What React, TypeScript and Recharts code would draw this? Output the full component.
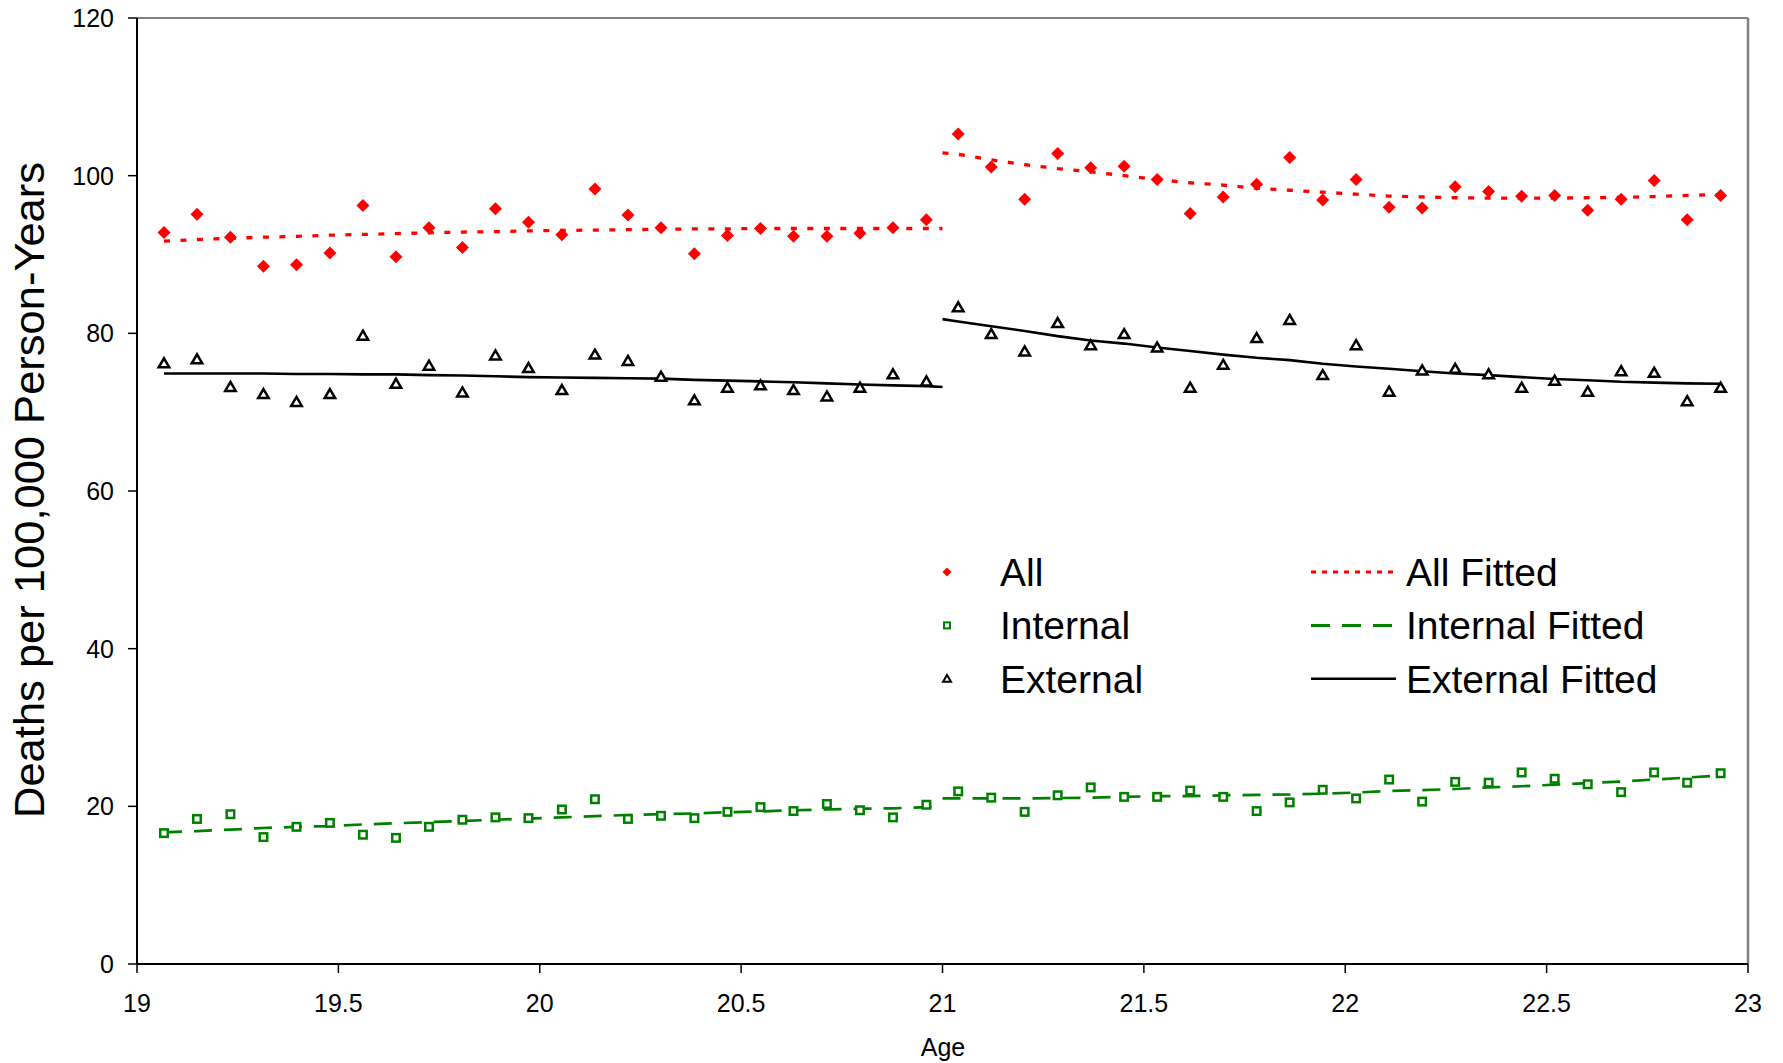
import React from 'react';
import {
  ComposedChart,
  Scatter,
  Line,
  XAxis,
  YAxis,
  ReferenceLine,
  Legend,
} from 'recharts';

// ages of the monthly points, before and after the age-21 break
const agesA = [
  19.067, 19.149, 19.232, 19.314, 19.396, 19.479, 19.561, 19.643, 19.725, 19.808, 19.89, 19.972,
  20.055, 20.137, 20.219, 20.301, 20.384, 20.466, 20.548, 20.63, 20.713, 20.795, 20.877, 20.96,
];
const agesB = [
  21.039, 21.121, 21.204, 21.286, 21.368, 21.451, 21.533, 21.615, 21.697, 21.78, 21.862, 21.944,
  22.027, 22.109, 22.191, 22.273, 22.356, 22.438, 22.52, 22.602, 22.685, 22.767, 22.849, 22.932,
];
const BREAK_AGE = 21;

const allValues = [
  92.8, 95.1, 92.2, 88.5, 88.7, 90.2, 96.2, 89.7, 93.4, 90.9, 95.8, 94.1,
  92.5, 98.3, 95.0, 93.4, 90.1, 92.4, 93.3, 92.3, 92.3, 92.7, 93.4, 94.4,
  105.3, 101.1, 97.0, 102.8, 101.0, 101.2, 99.5, 95.2, 97.3, 98.9, 102.3, 96.9,
  99.5, 96.0, 95.9, 98.6, 98.0, 97.4, 97.5, 95.6, 97.0, 99.4, 94.4, 97.5,
];
const internalValues = [
  16.6, 18.4, 19.0, 16.1, 17.4, 17.9, 16.4, 16.0, 17.4, 18.3, 18.6, 18.5,
  19.6, 20.9, 18.4, 18.8, 18.5, 19.3, 19.9, 19.4, 20.3, 19.5, 18.6, 20.2,
  21.9, 21.1, 19.3, 21.4, 22.4, 21.2, 21.2, 22.0, 21.2, 19.4, 20.5, 22.1,
  21.0, 23.4, 20.6, 23.1, 23.0, 24.3, 23.5, 22.8, 21.8, 24.3, 23.0, 24.2,
];
const externalValues = [
  76.2, 76.7, 73.2, 72.3, 71.3, 72.3, 79.7, 73.6, 75.9, 72.5, 77.2, 75.6,
  72.8, 77.3, 76.5, 74.5, 71.5, 73.1, 73.4, 72.8, 72.0, 73.1, 74.8, 73.9,
  83.3, 79.9, 77.7, 81.3, 78.5, 79.9, 78.2, 73.1, 76.0, 79.4, 81.7, 74.7,
  78.5, 72.6, 75.3, 75.5, 74.8, 73.1, 74.0, 72.6, 75.2, 75.0, 71.4, 73.1,
];

// fitted curves: first part ends at 21, second part starts at 21
const allFitA = [
  91.7, 91.9, 92.05, 92.2, 92.3, 92.45, 92.55, 92.65, 92.75, 92.85, 92.9, 93.0,
  93.05, 93.1, 93.15, 93.2, 93.25, 93.25, 93.3, 93.3, 93.3, 93.3, 93.3, 93.3, 93.3,
];
const allFitB = [
  102.9, 102.7, 102.0, 101.4, 100.9, 100.5, 100.0, 99.5, 99.1, 98.8, 98.4, 98.15, 97.9,
  97.65, 97.4, 97.3, 97.2, 97.15, 97.15, 97.15, 97.2, 97.25, 97.35, 97.5, 97.6,
];
const internalFitA = [
  16.7, 16.85, 17.05, 17.25, 17.4, 17.5, 17.7, 17.85, 18.0, 18.15, 18.3, 18.45,
  18.6, 18.75, 18.9, 19.0, 19.1, 19.25, 19.35, 19.5, 19.6, 19.7, 19.75, 19.9, 20.0,
];
const internalFitB = [
  21.0, 21.0, 21.0, 21.0, 21.05, 21.1, 21.2, 21.3, 21.3, 21.4, 21.45, 21.5, 21.6,
  21.75, 21.95, 22.05, 22.2, 22.4, 22.55, 22.75, 22.95, 23.15, 23.4, 23.65, 23.9,
];
const externalFitA = [
  74.9, 74.9, 74.9, 74.9, 74.85, 74.85, 74.8, 74.8, 74.7, 74.65, 74.55, 74.45,
  74.4, 74.35, 74.3, 74.25, 74.1, 74.0, 73.9, 73.8, 73.65, 73.5, 73.4, 73.3, 73.2,
];
const externalFitB = [
  81.8, 81.5, 80.9, 80.3, 79.65, 79.1, 78.7, 78.2, 77.75, 77.3, 76.9, 76.6, 76.15,
  75.8, 75.5, 75.2, 74.9, 74.7, 74.45, 74.2, 74.05, 73.85, 73.75, 73.65, 73.6,
];

const xTicks = [19, 19.5, 20, 20.5, 21, 21.5, 22, 22.5, 23];
const yTicks = [0, 20, 40, 60, 80, 100, 120];

const RED = '#ff0000';
const GREEN = '#008000';
const BLACK = '#000000';
const FONT = '"Liberation Sans", Arial, sans-serif';

const ages = [...agesA, ...agesB];
const fitAgesA = [...agesA, BREAK_AGE];
const fitAgesB = [BREAK_AGE, ...agesB];
const toPoints = (xs: number[], ys: number[]) => xs.map((x, i) => ({ x, y: ys[i] }));

const Diamond = ({ cx, cy, r = 6.5 }: any) => (
  <polygon points={`${cx},${cy - r} ${cx + r},${cy} ${cx},${cy + r} ${cx - r},${cy}`} fill={RED} />
);
const Square = ({ cx, cy, s = 7.5, w = 2.5 }: any) => (
  <rect x={cx - s / 2} y={cy - s / 2} width={s} height={s} fill="#fff" stroke={GREEN} strokeWidth={w} />
);
const Triangle = ({ cx, cy, r = 5, w = 2.5 }: any) => (
  <polygon
    points={`${cx},${cy - r} ${cx + r * 1.05},${cy + r * 0.8} ${cx - r * 1.05},${cy + r * 0.8}`}
    fill="#fff"
    stroke={BLACK}
    strokeWidth={w}
  />
);

const renderLegend = () => {
  const rows = [
    { y: 27, name: 'All', fit: 'All Fitted', marker: <Diamond cx={17} cy={27} r={4.5} />, color: RED, dash: '5 6', w: 3 },
    { y: 80.4, name: 'Internal', fit: 'Internal Fitted', marker: <Square cx={17} cy={80.4} s={6} w={2} />, color: GREEN, dash: '19 12', w: 3 },
    { y: 133.8, name: 'External', fit: 'External Fitted', marker: <Triangle cx={17} cy={133.8} r={3.8} w={2} />, color: BLACK, dash: undefined, w: 2.5 },
  ];
  return (
    <svg width={800} height={160} style={{ fontFamily: FONT }}>
      {rows.map((r) => (
        <g key={r.name}>
          {r.marker}
          <text x={70} y={r.y + 14} fontSize={39} fill="#000">{r.name}</text>
          <line x1={381} x2={466} y1={r.y} y2={r.y} stroke={r.color} strokeWidth={r.w} strokeDasharray={r.dash} />
          <text x={476} y={r.y + 14} fontSize={39} fill="#000">{r.fit}</text>
        </g>
      ))}
    </svg>
  );
};

const YLabel = () => (
  <text
    x={44}
    y={490}
    transform="rotate(-90, 44, 490)"
    textAnchor="middle"
    fontSize={42}
    fill="#000"
    textLength={656}
    lengthAdjust="spacingAndGlyphs"
  >
    Deaths per 100,000 Person-Years
  </text>
);

const XLabel = () => (
  <text x={943} y={1056} textAnchor="middle" fontSize={25} fill="#000">
    Age
  </text>
);

export default function App() {
  return (
    <div style={{ width: 1783, height: 1063, background: '#fff', fontFamily: FONT }}>
      <style>{'body{margin:0}'}</style>
      <ComposedChart width={1783} height={1063} margin={{ top: 18, right: 35, left: 37, bottom: 0 }}>
        <XAxis
          dataKey="x"
          type="number"
          domain={[19, 23]}
          ticks={xTicks}
          allowDataOverflow
          height={99}
          tickSize={9}
          tickMargin={21}
          axisLine={{ stroke: BLACK, strokeWidth: 2 }}
          tickLine={{ stroke: BLACK, strokeWidth: 1.5 }}
          tick={{ fontSize: 25, fill: '#000', fontFamily: FONT }}
          label={() => <XLabel />}
        />
        <YAxis
          dataKey="y"
          type="number"
          domain={[0, 120]}
          ticks={yTicks}
          allowDataOverflow
          width={100}
          tickSize={9}
          tickMargin={14}
          axisLine={{ stroke: BLACK, strokeWidth: 2 }}
          tickLine={{ stroke: BLACK, strokeWidth: 1.5 }}
          tick={{ fontSize: 25, fill: '#000', fontFamily: FONT }}
          label={() => <YLabel />}
        />
        <ReferenceLine y={120} stroke="#808080" strokeWidth={2} />
        <ReferenceLine x={23} stroke="#808080" strokeWidth={2.5} />

        <Scatter name="All" data={toPoints(ages, allValues)} dataKey="y" shape={(p: any) => <Diamond cx={p.cx} cy={p.cy} />} isAnimationActive={false} />
        <Scatter name="Internal" data={toPoints(ages, internalValues)} dataKey="y" shape={(p: any) => <Square cx={p.cx} cy={p.cy} />} isAnimationActive={false} />
        <Scatter name="External" data={toPoints(ages, externalValues)} dataKey="y" shape={(p: any) => <Triangle cx={p.cx} cy={p.cy} />} isAnimationActive={false} />

        <Line data={toPoints(fitAgesA, allFitA)} dataKey="y" type="linear" stroke={RED} strokeWidth={3.3} strokeDasharray="6 10.5" dot={false} activeDot={false} isAnimationActive={false} />
        <Line data={toPoints(fitAgesB, allFitB)} dataKey="y" type="linear" stroke={RED} strokeWidth={3.3} strokeDasharray="6 10.5" dot={false} activeDot={false} isAnimationActive={false} />
        <Line data={toPoints(fitAgesA, internalFitA)} dataKey="y" type="linear" stroke={GREEN} strokeWidth={2.7} strokeDasharray="18 12" dot={false} activeDot={false} isAnimationActive={false} />
        <Line data={toPoints(fitAgesB, internalFitB)} dataKey="y" type="linear" stroke={GREEN} strokeWidth={2.7} strokeDasharray="18 12" dot={false} activeDot={false} isAnimationActive={false} />
        <Line data={toPoints(fitAgesA, externalFitA)} dataKey="y" type="linear" stroke={BLACK} strokeWidth={2.6} dot={false} activeDot={false} isAnimationActive={false} />
        <Line data={toPoints(fitAgesB, externalFitB)} dataKey="y" type="linear" stroke={BLACK} strokeWidth={2.6} dot={false} activeDot={false} isAnimationActive={false} />

        <Legend
          layout="vertical"
          align="center"
          verticalAlign="middle"
          content={renderLegend}
          wrapperStyle={{ position: 'absolute', left: 930, top: 545, width: 800, height: 160 }}
        />
      </ComposedChart>
    </div>
  );
}
